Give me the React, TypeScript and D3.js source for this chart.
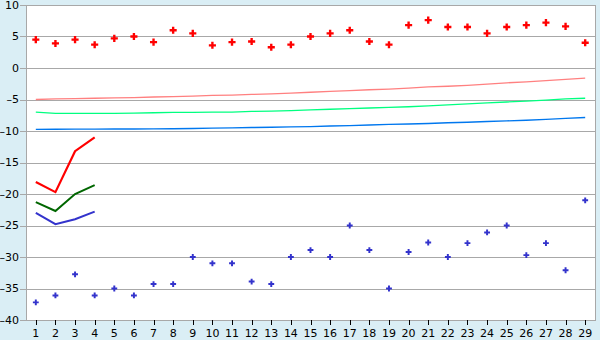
import React from "react";
import * as d3 from "d3";

const categories: string[] = Array.from({ length: 29 }, (_, i) => String(i + 1));
const yTicks: number[] = [10, 5, 0, -5, -10, -15, -20, -25, -30, -35, -40];

const redPoints: number[] = [4.5, 3.9, 4.5, 3.7, 4.7, 5.0, 4.1, 6.0, 5.5, 3.6, 4.1, 4.2, 3.3, 3.7, 5.0, 5.5, 6.0, 4.2, 3.7, 6.8, 7.6, 6.5, 6.5, 5.5, 6.5, 6.8, 7.2, 6.6, 4.0];
const bluePoints: number[] = [-37.2, -36.1, -32.75, -36.1, -35.0, -36.1, -34.3, -34.3, -30.0, -31.0, -31.0, -33.9, -34.3, -30.0, -28.9, -30.0, -25.0, -28.9, -35.0, -29.2, -27.7, -30.0, -27.8, -26.1, -25.0, -29.7, -27.8, -32.1, -21.0];

const redThin: number[] = [-5.0, -4.9, -4.85, -4.8, -4.75, -4.7, -4.6, -4.55, -4.45, -4.35, -4.3, -4.2, -4.1, -4.0, -3.85, -3.7, -3.6, -3.45, -3.35, -3.2, -3.0, -2.9, -2.75, -2.55, -2.35, -2.2, -2.0, -1.8, -1.6];
const greenThin: number[] = [-7.0, -7.2, -7.2, -7.2, -7.2, -7.15, -7.1, -7.05, -7.05, -7.0, -7.0, -6.9, -6.85, -6.75, -6.65, -6.55, -6.45, -6.35, -6.25, -6.15, -6.0, -5.85, -5.7, -5.55, -5.4, -5.25, -5.1, -4.9, -4.8];
const blueThin: number[] = [-9.75, -9.72, -9.71, -9.7, -9.69, -9.68, -9.67, -9.65, -9.6, -9.55, -9.5, -9.45, -9.4, -9.35, -9.3, -9.2, -9.15, -9.05, -8.95, -8.9, -8.8, -8.7, -8.6, -8.5, -8.4, -8.3, -8.15, -8.0, -7.85];

const redThick: number[] = [-18.1, -19.7, -13.2, -11.0];
const greenThick: number[] = [-21.3, -22.7, -20.0, -18.6];
const blueThick: number[] = [-23.0, -24.8, -24.0, -22.8];

const W = 600;
const H = 340;
const L = 26;
const R = 595;
const T = 5;
const B = 320;

export default function App() {
  const x = d3.scaleBand<string>().domain(categories).range([L, R]).padding(0);
  const cx = (i: number) => (x(categories[i]) as number) + x.bandwidth() / 2;
  const y = d3.scaleLinear().domain([-40, 10]).range([B, T]);

  const line = d3
    .line<number>()
    .x((_, i) => cx(i))
    .y((d) => y(d));

  const crossBig = d3.symbol().type(d3.symbolCross).size(28)();
  const crossSmall = d3.symbol().type(d3.symbolCross).size(19)();

  const font = "'DejaVu Sans', Verdana, sans-serif";

  return (
    <svg
      width={W}
      height={H}
      style={{ position: "absolute", left: 0, top: 0, display: "block" }}
    >
      <rect x={0} y={0} width={W} height={H} fill="#DAEEF5" />
      <rect x={L} y={T} width={R - L} height={B - T} fill="#FFFFFF" />
      {yTicks.map((t) => (
        <g key={t}>
          <line
            x1={L - 6}
            x2={R}
            y1={Math.round(y(t)) + 0.5}
            y2={Math.round(y(t)) + 0.5}
            stroke="#A8A8A8"
            strokeWidth={1}
            shapeRendering="crispEdges"
          />
          <text
            x={19}
            y={y(t)}
            dy="0.36em"
            textAnchor="end"
            fontFamily={font}
            fontSize={11}
            fill="#000"
          >
            {t < 0 ? "\u2013" + Math.abs(t) : String(t)}
          </text>
        </g>
      ))}
      <line x1={L + 0.5} x2={L + 0.5} y1={T} y2={B} stroke="#A8A8A8" shapeRendering="crispEdges" />
      <line x1={R + 0.5} x2={R + 0.5} y1={T} y2={B + 1} stroke="#A8A8A8" shapeRendering="crispEdges" />
      {categories.map((c, i) => (
        <g key={c}>
          <line
            x1={Math.round(cx(i)) + 0.5}
            x2={Math.round(cx(i)) + 0.5}
            y1={B}
            y2={B + 5}
            stroke="#000"
            shapeRendering="crispEdges"
          />
          <text
            x={cx(i)}
            y={337}
            textAnchor="middle"
            fontFamily={font}
            fontSize={11}
            fill="#000"
          >
            {c}
          </text>
        </g>
      ))}

      <path d={line(redThin) || ""} fill="none" stroke="#FF8080" strokeWidth={1.3} />
      <path d={line(greenThin) || ""} fill="none" stroke="#00FF80" strokeWidth={1.3} />
      <path d={line(blueThin) || ""} fill="none" stroke="#0077EE" strokeWidth={1.4} />

      <path d={line(redThick) || ""} fill="none" stroke="#FF0000" strokeWidth={2.2} />
      <path d={line(greenThick) || ""} fill="none" stroke="#006600" strokeWidth={2} />
      <path d={line(blueThick) || ""} fill="none" stroke="#3333CC" strokeWidth={2} />

      {redPoints.map((v, i) => (
        <path key={"r" + i} d={crossBig || ""} transform={`translate(${cx(i)},${y(v)})`} fill="#FF0000" />
      ))}
      {bluePoints.map((v, i) => (
        <path key={"b" + i} d={crossSmall || ""} transform={`translate(${cx(i)},${y(v)})`} fill="#3333CC" />
      ))}
    </svg>
  );
}
